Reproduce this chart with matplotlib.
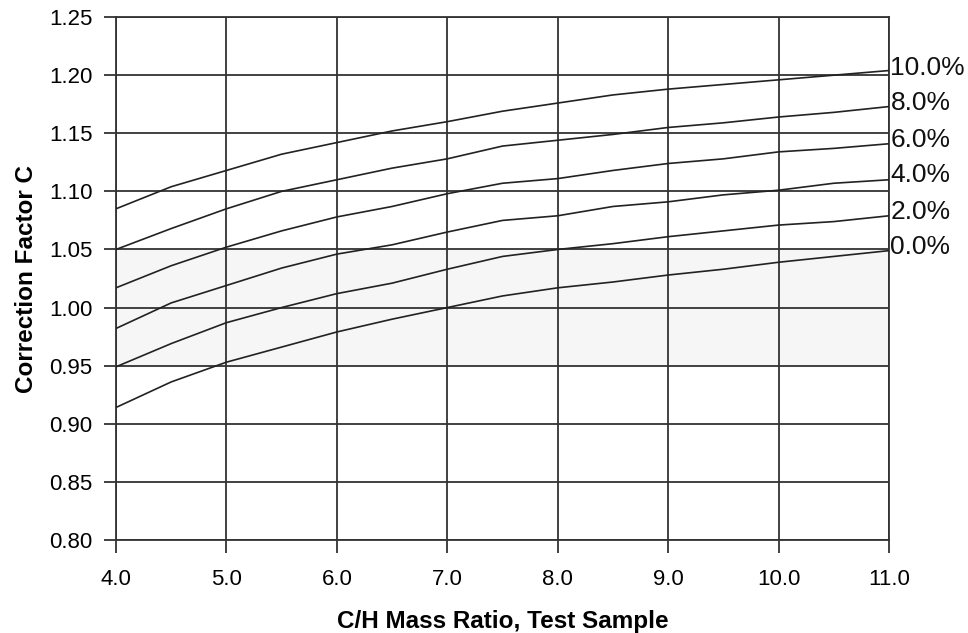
import numpy as np
import matplotlib
matplotlib.use("Agg")
import matplotlib.pyplot as plt

plt.rcParams['font.family'] = ['Liberation Sans', 'DejaVu Sans']

# C/H mass ratio read at half steps
ch_ratio = [4.0, 4.5, 5.0, 5.5, 6.0, 6.5, 7.0, 7.5, 8.0, 8.5, 9.0, 9.5, 10.0, 10.5, 11.0]

c_10 = [1.085, 1.104, 1.118, 1.132, 1.142, 1.152, 1.160, 1.169, 1.176, 1.183, 1.188, 1.192, 1.196, 1.200, 1.204]
c_8 = [1.050, 1.068, 1.085, 1.100, 1.110, 1.120, 1.128, 1.139, 1.144, 1.149, 1.155, 1.159, 1.164, 1.168, 1.173]
c_6 = [1.017, 1.036, 1.052, 1.066, 1.078, 1.087, 1.098, 1.107, 1.111, 1.118, 1.124, 1.128, 1.134, 1.137, 1.141]
c_4 = [0.982, 1.004, 1.019, 1.034, 1.046, 1.054, 1.065, 1.075, 1.079, 1.087, 1.091, 1.097, 1.101, 1.107, 1.110]
c_2 = [0.949, 0.969, 0.987, 1.000, 1.012, 1.021, 1.033, 1.044, 1.050, 1.055, 1.061, 1.066, 1.071, 1.074, 1.079]
c_0 = [0.914, 0.936, 0.953, 0.966, 0.979, 0.990, 1.000, 1.010, 1.017, 1.022, 1.028, 1.033, 1.039, 1.044, 1.049]

curves = [c_10, c_8, c_6, c_4, c_2, c_0]
curve_labels = ["10.0%", "8.0%", "6.0%", "4.0%", "2.0%", "0.0%"]
# right-hand label heights (slightly above line ends)
label_y = [1.206, 1.176, 1.144, 1.114, 1.082, 1.052]

band = (0.95, 1.05)

fig = plt.figure(figsize=(9.68, 6.33), dpi=100)
ax = fig.add_axes([0.1198, 0.147, 0.7986, 0.826])

ax.axhspan(band[0], band[1], color="#f6f6f6", zorder=0)

for yy, lab, yl in zip(curves, curve_labels, label_y):
    ax.plot(ch_ratio, yy, color="#222222", lw=1.2, zorder=3)
    ax.annotate(lab, xy=(ch_ratio[-1], yl), xytext=(1, 0), textcoords="offset points",
                ha="left", va="center", fontsize=19, color="#111111", annotation_clip=False)

ax.set_xlim(4, 11)
ax.set_ylim(0.80, 1.25)
ax.set_xticks(np.arange(4, 11.01, 1.0))
ax.set_yticks(np.arange(0.80, 1.2501, 0.05))
ax.set_xticklabels(["%.1f" % v for v in np.arange(4, 11.01, 1.0)])
ax.set_yticklabels(["%.2f" % v for v in np.arange(0.80, 1.2501, 0.05)])

ax.grid(True, color="#333333", lw=1.3, zorder=1)
ax.set_axisbelow(True)
for s in ax.spines.values():
    s.set_color("#333333")
    s.set_linewidth(1.3)

ax.tick_params(axis="both", direction="out", length=9, width=1.3, color="#333333", labelsize=16)
ax.tick_params(axis="x", pad=12)
ax.tick_params(axis="y", pad=8)

ax.set_xlabel("C/H Mass Ratio, Test Sample", fontsize=17.5, fontweight="bold", labelpad=14)
ax.set_ylabel("Correction Factor C", fontsize=17.5, fontweight="bold", labelpad=8)

fig.savefig("out.png", dpi=100)
